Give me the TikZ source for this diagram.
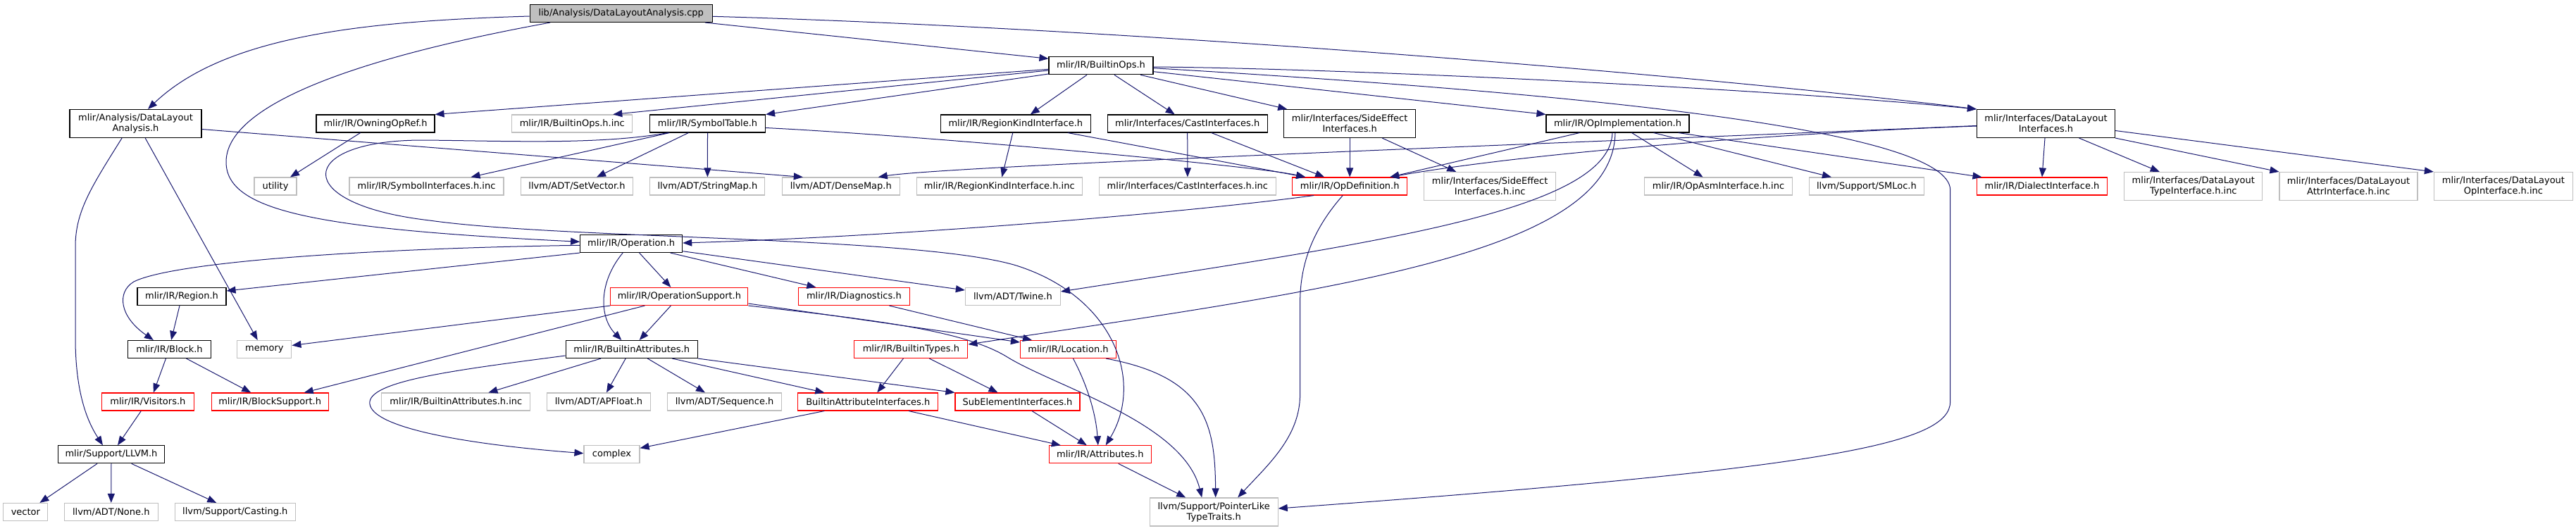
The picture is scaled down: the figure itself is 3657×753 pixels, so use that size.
\documentclass[tikz,border=0pt]{standalone}
\usepackage{fontspec}
\setmainfont{DejaVu Sans}
\usetikzlibrary{arrows.meta}
\definecolor{edgeblue}{HTML}{191970}
\definecolor{greyseventyfive}{HTML}{BFBFBF}
\begin{document}
\begin{tikzpicture}[x=1pt,y=-1pt,
  nd/.style={draw=black,line width=1.1pt,fill=white,inner sep=0pt,minimum height=25pt,align=center,font=\fontsize{13}{15}\selectfont,text=black},
  gnd/.style={nd,draw=greyseventyfive},
  rnd/.style={nd,draw=red},
  two/.style={minimum height=40pt},
  dep/.style={draw=edgeblue,line width=1pt,-{Triangle[length=13pt,width=10pt]}},
]
\useasboundingbox (0,0) rectangle (3657,753);
\fill[white] (0,0) rectangle (3657,753);
% rank 0-1
\node[nd,fill=greyseventyfive,minimum width=259pt] (cpp) at (881.7,19) {lib/Analysis/DataLayoutAnalysis.cpp};
\node[nd,minimum width=148pt] (bops) at (1563,93.3) {mlir/IR/BuiltinOps.h};
% rank 2
\node[nd,two,minimum width=187pt] (dla) at (192.5,175.5) {mlir/Analysis/DataLayout\\Analysis.h};
\node[nd,minimum width=168pt] (owning) at (533,175.5) {mlir/IR/OwningOpRef.h};
\node[gnd,minimum width=171pt] (bopsinc) at (812.3,175.5) {mlir/IR/BuiltinOps.h.inc};
\node[nd,minimum width=164pt] (symtab) at (1004.5,175.5) {mlir/IR/SymbolTable.h};
\node[nd,minimum width=212.5pt] (rki) at (1441.8,175.5) {mlir/IR/RegionKindInterface.h};
\node[nd,minimum width=227pt] (cast) at (1685.7,175.5) {mlir/Interfaces/CastInterfaces.h};
\node[nd,two,minimum width=187pt] (sideeff) at (1916.2,175.5) {mlir/Interfaces/SideEffect\\Interfaces.h};
\node[nd,minimum width=203pt] (opimpl) at (2296.5,175.5) {mlir/IR/OpImplementation.h};
\node[nd,two,minimum width=196pt] (dli) at (2904.5,175.5) {mlir/Interfaces/DataLayout\\Interfaces.h};
% rank 3
\node[gnd,minimum width=60pt] (utility) at (391,264.5) {utility};
\node[gnd,minimum width=219pt] (syminc) at (605.5,264.5) {mlir/IR/SymbolInterfaces.h.inc};
\node[gnd,minimum width=159pt] (setvec) at (819,264.5) {llvm/ADT/SetVector.h};
\node[gnd,minimum width=163pt] (strmap) at (1004.4,264.5) {llvm/ADT/StringMap.h};
\node[gnd,minimum width=167pt] (densemap) at (1193.8,264.5) {llvm/ADT/DenseMap.h};
\node[gnd,minimum width=235pt] (rkiinc) at (1418.8,264.5) {mlir/IR/RegionKindInterface.h.inc};
\node[gnd,minimum width=251pt] (castinc) at (1685.9,264.5) {mlir/Interfaces/CastInterfaces.h.inc};
\node[rnd,minimum width=163pt] (opdef) at (1916.2,264.5) {mlir/IR/OpDefinition.h};
\node[gnd,two,minimum width=187pt] (sideinc) at (2115.2,264.5) {mlir/Interfaces/SideEffect\\Interfaces.h.inc};
\node[gnd,minimum width=210pt] (opasminc) at (2439.5,264.5) {mlir/IR/OpAsmInterface.h.inc};
\node[gnd,minimum width=163pt] (smloc) at (2649.9,264.5) {llvm/Support/SMLoc.h};
\node[rnd,minimum width=185pt] (dialect) at (2899,264.5) {mlir/IR/DialectInterface.h};
\node[gnd,two,minimum width=196pt] (typeinc) at (3113.8,264.5) {mlir/Interfaces/DataLayout\\TypeInterface.h.inc};
\node[gnd,two,minimum width=196pt] (attrinc) at (3334,264.5) {mlir/Interfaces/DataLayout\\AttrInterface.h.inc};
\node[gnd,two,minimum width=197pt] (opinc) at (3553.9,264.5) {mlir/Interfaces/DataLayout\\OpInterface.h.inc};
% rank 4
\node[nd,minimum width=145pt] (operation) at (896.2,346) {mlir/IR/Operation.h};
% rank 5
\node[nd,minimum width=126pt] (region) at (258,421) {mlir/IR/Region.h};
\node[rnd,minimum width=195pt] (opsupport) at (964.4,421) {mlir/IR/OperationSupport.h};
\node[rnd,minimum width=158pt] (diag) at (1212.4,421) {mlir/IR/Diagnostics.h};
\node[gnd,minimum width=135pt] (twine) at (1437.9,421) {llvm/ADT/Twine.h};
% rank 6
\node[nd,minimum width=118pt] (block) at (240.5,496) {mlir/IR/Block.h};
\node[gnd,minimum width=77pt] (memory) at (375.4,496) {memory};
\node[nd,minimum width=187pt] (battr) at (896.7,496) {mlir/IR/BuiltinAttributes.h};
\node[rnd,minimum width=161pt] (btypes) at (1293.4,496) {mlir/IR/BuiltinTypes.h};
\node[rnd,minimum width=136pt] (location) at (1516.5,496) {mlir/IR/Location.h};
% rank 7
\node[rnd,minimum width=131pt] (visitors) at (209.9,570.5) {mlir/IR/Visitors.h};
\node[rnd,minimum width=166pt] (blocksup) at (383.2,570.5) {mlir/IR/BlockSupport.h};
\node[gnd,minimum width=211pt] (battrinc) at (647.4,570.5) {mlir/IR/BuiltinAttributes.h.inc};
\node[gnd,minimum width=147pt] (apfloat) at (850,570.5) {llvm/ADT/APFloat.h};
\node[gnd,minimum width=162pt] (seq) at (1028.6,570.5) {llvm/ADT/Sequence.h};
\node[rnd,minimum width=199pt] (bai) at (1232.3,570.5) {BuiltinAttributeInterfaces.h};
\node[rnd,minimum width=177pt] (subel) at (1444.5,570.5) {SubElementInterfaces.h};
% rank 8
\node[nd,minimum width=151pt] (llvm) at (158,645.3) {mlir/Support/LLVM.h};
\node[gnd,minimum width=79pt] (complex) at (868.5,645.3) {complex};
\node[rnd,minimum width=145pt] (attrs) at (1561.8,645.3) {mlir/IR/Attributes.h};
% rank 9
\node[gnd,minimum width=63pt] (vector) at (36.4,727) {vector};
\node[gnd,minimum width=133pt] (none) at (157.8,727) {llvm/ADT/None.h};
\node[gnd,minimum width=171pt] (casting) at (333.8,727) {llvm/Support/Casting.h};
\node[gnd,two,minimum width=182pt] (ptrlike) at (1723.2,727) {llvm/Support/PointerLike\\TypeTraits.h};

% edges from cpp
\draw[dep] ([shift={(0,4)}]cpp.west) .. controls (520,30) and (320,50) .. ([shift={(17.5,0)}]dla.north);
\draw[dep] ([shift={(-100.7,0)}]cpp.south) .. controls (600,65) and (321,130) .. (321,230) .. controls (321,300) and (450,325) .. ([shift={(0,-2.7)}]operation.west);
\draw[dep] ([shift={(119.2,0)}]cpp.south) -- ([shift={(0,-10)}]bops.west);
\draw[dep] ([shift={(0,4.3)}]cpp.east) .. controls (1600,40) and (2400,105) .. (dli.north west);
% edges from BuiltinOps.h
\draw[dep] ([shift={(0,5)}]bops.west) -- (owning.north east);
\draw[dep] ([shift={(0,6.7)}]bops.west) -- ([shift={(58,0)}]bopsinc.north);
\draw[dep] ([shift={(0,11.7)}]bops.west) -- (symtab.north east);
\draw[dep] ([shift={(-20,0)}]bops.south) -- ([shift={(21,0)}]rki.north);
\draw[dep] ([shift={(19,0)}]bops.south) -- ([shift={(-18,0)}]cast.north);
\draw[dep] ([shift={(56,0)}]bops.south) -- ([shift={(-89,0)}]sideeff.north);
\draw[dep] ([shift={(0,8.4)}]bops.east) -- (opimpl.north west);
\draw[dep] ([shift={(0,1.7)}]bops.east) .. controls (1900,97) and (2500,125) .. (dli.north west);
\draw[dep] ([shift={(0,3.4)}]bops.east) .. controls (2200,130) and (2768.7,180) .. (2768.7,270) -- (2768.7,570) .. controls (2768.7,630) and (2600,665) .. ([shift={(0,-5)}]ptrlike.east);
% edges from DataLayoutAnalysis.h
\draw[dep] ([shift={(0,8)}]dla.east) -- ([shift={(-54,0)}]densemap.north);
\draw[dep] ([shift={(-19.4,0)}]dla.south) .. controls (130,265) and (107,300) .. (107,350) -- (107,480) .. controls (107,560) and (125,600) .. ([shift={(-12,0)}]llvm.north);
\draw[dep] ([shift={(13.7,0)}]dla.south) -- ([shift={(-9.7,0)}]memory.north);
% OwningOpRef
\draw[dep] ([shift={(-21.4,0)}]owning.south) -- ([shift={(21,0)}]utility.north);
% SymbolTable
\draw[dep] ([shift={(-54,0)}]symtab.south) -- ([shift={(63,0)}]syminc.north);
\draw[dep] ([shift={(-27,0)}]symtab.south) -- ([shift={(28,0)}]setvec.north);
\draw[dep] (symtab.south) -- (strmap.north);
\draw[dep] ([shift={(0,6)}]symtab.east) .. controls (1300,192) and (1780,235) .. ([shift={(-63,0)}]opdef.north);
\draw[dep] ([shift={(-56,0)}]symtab.south) .. controls (850,206) and (720,200) .. (600,199) .. controls (420,199) and (410,290) .. (610,313) .. controls (800,340) and (1300,335) .. (1441.7,376.7) .. controls (1580,420) and (1625,540) .. ([shift={(8,0)}]attrs.north);
% RegionKindInterface, CastInterfaces, SideEffect
\draw[dep] ([shift={(-4,0)}]rki.south) -- ([shift={(3.5,0)}]rkiinc.north);
\draw[dep] ([shift={(74,0)}]rki.south) -- ([shift={(-63,0)}]opdef.north);
\draw[dep] (cast.south) -- (castinc.north);
\draw[dep] ([shift={(34,0)}]cast.south) -- ([shift={(-36,0)}]opdef.north);
\draw[dep] (sideeff.south) -- (opdef.north);
\draw[dep] ([shift={(46,0)}]sideeff.south) -- ([shift={(-48,0)}]sideinc.north);
% OpImplementation
\draw[dep] ([shift={(-54,0)}]opimpl.south) -- ([shift={(57,0)}]opdef.north);
\draw[dep] ([shift={(20,0)}]opimpl.south) -- ([shift={(-22,0)}]opasminc.north);
\draw[dep] ([shift={(51,0)}]opimpl.south) -- ([shift={(-50,0)}]smloc.north);
\draw[dep] ([shift={(86,0)}]opimpl.south) -- ([shift={(-85.5,0)}]dialect.north);
\draw[dep] ([shift={(-7.5,0)}]opimpl.south) .. controls (2285,300) and (1950,345) .. ([shift={(0,-7)}]twine.east);
\draw[dep] ([shift={(-3.5,0)}]opimpl.south) .. controls (2290,360) and (1900,410) .. ([shift={(0,-7)}]btypes.east);
% DataLayoutInterfaces
\draw[dep] ([shift={(-1.5,0)}]dli.south) -- (dialect.north);
\draw[dep] ([shift={(47,0)}]dli.south) -- ([shift={(-48,0)}]typeinc.north);
\draw[dep] (dli.south east) -- (attrinc.north west);
\draw[dep] ([shift={(0,10)}]dli.east) -- (opinc.north west);
\draw[dep] ([shift={(0,3.5)}]dli.west) .. controls (2500,190) and (2150,220) .. ([shift={(57,0)}]opdef.north);
\draw[dep] ([shift={(0,3)}]dli.west) .. controls (2300,200) and (1350,235) .. ([shift={(53,0)}]densemap.north);
% OpDefinition
\draw[dep] ([shift={(-51,0)}]opdef.south) .. controls (1700,300) and (1300,335) .. ([shift={(0,-1)}]operation.east);
\draw[dep] ([shift={(-10,0)}]opdef.south) .. controls (1860,330) and (1845.6,380) .. (1845.6,430) -- (1845.6,560) .. controls (1845.6,620) and (1800,660) .. ([shift={(34,0)}]ptrlike.north);
% Operation
\draw[dep] (operation.south west) -- ([shift={(0,-8)}]region.east);
\draw[dep] ([shift={(0,2.3)}]operation.west) .. controls (550,352) and (250,370) .. (190,400) .. controls (165,415) and (170,450) .. ([shift={(-22.6,0)}]block.north);
\draw[dep] ([shift={(11.4,0)}]operation.south) -- ([shift={(-12,0)}]opsupport.north);
\draw[dep] ([shift={(-12,0)}]operation.south) .. controls (850,400) and (850,450) .. ([shift={(-14.4,0)}]battr.north);
\draw[dep] ([shift={(55.4,0)}]operation.south) -- ([shift={(-54,0)}]diag.north);
\draw[dep] ([shift={(0,10.7)}]operation.east) -- ([shift={(0,-9)}]twine.west);
% Region, Block, Visitors, LLVM
\draw[dep] ([shift={(-3,0)}]region.south) -- ([shift={(2.6,0)}]block.north);
\draw[dep] ([shift={(-5,0)}]block.south) -- ([shift={(8,0)}]visitors.north);
\draw[dep] ([shift={(24,0)}]block.south) -- ([shift={(-27,0)}]blocksup.north);
\draw[dep] ([shift={(-9.6,0)}]visitors.south) -- ([shift={(9,0)}]llvm.north);
\draw[dep] ([shift={(-20,0)}]llvm.south) -- ([shift={(20,0)}]vector.north);
\draw[dep] (llvm.south) -- (none.north);
\draw[dep] ([shift={(28.7,0)}]llvm.south) -- ([shift={(-26.5,0)}]casting.north);
% OperationSupport
\draw[dep] ([shift={(-12,0)}]opsupport.south) -- ([shift={(11,0)}]battr.north);
\draw[dep] (opsupport.south west) -- ([shift={(0,-5.5)}]memory.east);
\draw[dep] ([shift={(-49,0)}]opsupport.south) -- ([shift={(48.6,0)}]blocksup.north);
\draw[dep] ([shift={(0,10)}]opsupport.east) -- ([shift={(0,-10)}]location.west);
\draw[dep] (opsupport.south east) .. controls (1250,455) and (1370,470) .. (1430,507) .. controls (1500,550) and (1680,600) .. ([shift={(-17,0)}]ptrlike.north);
% Diagnostics
\draw[dep] ([shift={(50,0)}]diag.south) -- ([shift={(-51.5,0)}]location.north);
% BuiltinAttributes
\draw[dep] ([shift={(-43.6,0)}]battr.south) -- ([shift={(46,0)}]battrinc.north);
\draw[dep] ([shift={(-8.5,0)}]battr.south) -- ([shift={(11,0)}]apfloat.north);
\draw[dep] ([shift={(22.6,0)}]battr.south) -- ([shift={(-27.6,0)}]seq.north);
\draw[dep] ([shift={(57.6,0)}]battr.south) -- ([shift={(-62,0)}]bai.north);
\draw[dep] (battr.south east) -- (subel.north west);
\draw[dep] ([shift={(0,9)}]battr.west) .. controls (650,525) and (530,540) .. (525,570) .. controls (520,605) and (650,630) .. ([shift={(0,-1.6)}]complex.west);
% BuiltinTypes
\draw[dep] ([shift={(-11,0)}]btypes.south) -- ([shift={(13,0)}]bai.north);
\draw[dep] ([shift={(26,0)}]btypes.south) -- ([shift={(-28,0)}]subel.north);
% Location
\draw[dep] ([shift={(7,0)}]location.south) .. controls (1545,550) and (1556,590) .. ([shift={(-3,0)}]attrs.north);
\draw[dep] ([shift={(53.6,0)}]location.south) .. controls (1710,535) and (1725,600) .. ([shift={(2.5,0)}]ptrlike.north);
% BuiltinAttributeInterfaces, SubElementInterfaces, Attributes
\draw[dep] ([shift={(-62,0)}]bai.south) -- ([shift={(0,-9)}]complex.east);
\draw[dep] ([shift={(57.7,0)}]bai.south) -- ([shift={(-56,0)}]attrs.north);
\draw[dep] ([shift={(20.5,0)}]subel.south) -- ([shift={(-19,0)}]attrs.north);
\draw[dep] ([shift={(26,0)}]attrs.south) -- ([shift={(-40,0)}]ptrlike.north);
\end{tikzpicture}
\end{document}
